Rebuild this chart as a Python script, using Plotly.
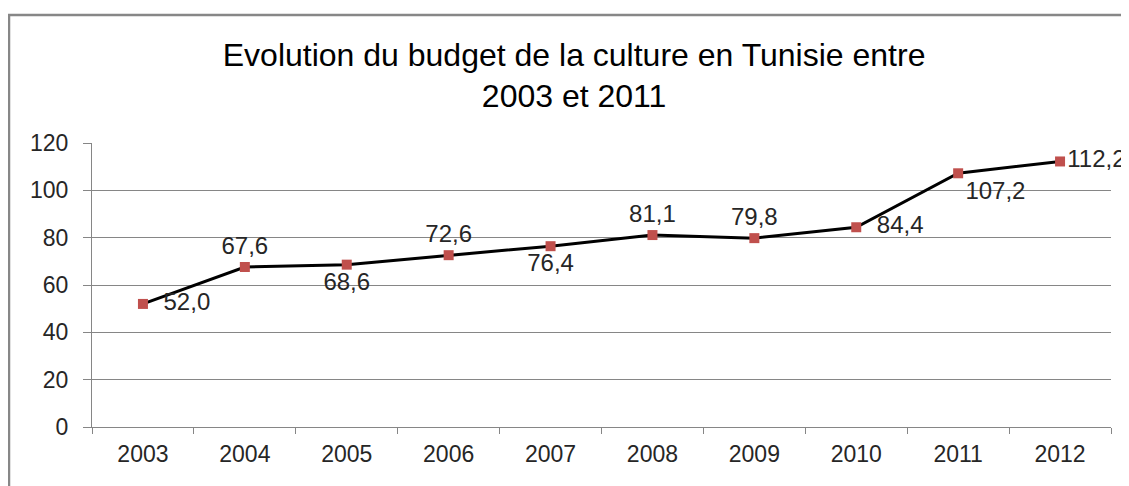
import plotly.graph_objects as go

years = ["2003", "2004", "2005", "2006", "2007", "2008", "2009", "2010", "2011", "2012"]
budget = [52.0, 67.6, 68.6, 72.6, 76.4, 81.1, 79.8, 84.4, 107.2, 112.2]
label_pos = ["middle right", "top center", "bottom center", "top center", "bottom center",
             "top center", "top center", "middle right", "bottom right", "middle right"]
label_pad = [2, 0, 0, 0, 0, 0, 0, 2, 0, 0]
y_ticks = [0, 20, 40, 60, 80, 100, 120]

labels = [f"{v:.1f}".replace(".", ",") for v in budget]

W, H = 1121, 478
L, R, T, B = 84, 18, 135, 59
plot_w = W - L - R
plot_h = H - T - B

fig = go.Figure()
fig.add_trace(go.Scatter(
    x=years, y=budget, mode="lines+markers+text",
    line=dict(color="black", width=3),
    marker=dict(symbol="square", size=10, color="#C0504D"),
    text=[" " * p + t for t, p in zip(labels, label_pad)],
    textposition=label_pos,
    textfont=dict(family="Liberation Sans", size=24, color="#262626"),
    cliponaxis=False,
))

fig.update_layout(
    width=W, height=H,
    margin=dict(l=L, r=R, t=T, b=B),
    paper_bgcolor="white", plot_bgcolor="white",
    showlegend=False,
    title=dict(text="Evolution du budget de la culture en Tunisie entre<br>2003 et 2011",
               x=0.505, xanchor="center", y=0.879, yanchor="middle",
               font=dict(family="Liberation Sans", size=32, color="black")),
    xaxis=dict(type="category", range=[-0.5, 9.5], showgrid=False,
               showline=True, linecolor="#868686", linewidth=1,
               ticks="outside", tickson="boundaries", ticklen=6, tickcolor="#868686",
               ticklabelstandoff=6,
               tickfont=dict(family="Liberation Sans", size=23, color="#262626")),
    yaxis=dict(range=[0, 120], tickvals=y_ticks, showgrid=True, gridcolor="#868686", gridwidth=1,
               showline=True, linecolor="#868686", linewidth=1, zeroline=False,
               ticks="outside", ticklen=8, tickcolor="#868686",
               ticklabelstandoff=10,
               tickfont=dict(family="Liberation Sans", size=23, color="#262626")),
)

fig.add_shape(type="rect", xref="paper", yref="paper",
              x0=(1 - L) / plot_w, x1=1.2, y0=-0.5, y1=(plot_h + T - 7) / plot_h,
              line=dict(color="#878787", width=2.5), fillcolor="rgba(0,0,0,0)", layer="below")

fig.write_html("out.html")
